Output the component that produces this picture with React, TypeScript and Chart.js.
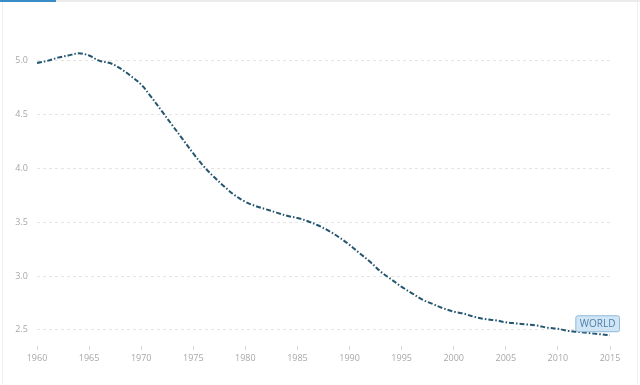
import React, { useEffect, useRef } from "react";
import { Chart, registerables } from "chart.js";

Chart.register(...registerables);

const years: number[] = [
  1960, 1961, 1962, 1963, 1964, 1965, 1966, 1967, 1968, 1969,
  1970, 1971, 1972, 1973, 1974, 1975, 1976, 1977, 1978, 1979,
  1980, 1981, 1982, 1983, 1984, 1985, 1986, 1987, 1988, 1989,
  1990, 1991, 1992, 1993, 1994, 1995, 1996, 1997, 1998, 1999,
  2000, 2001, 2002, 2003, 2004, 2005, 2006, 2007, 2008, 2009,
  2010, 2011, 2012, 2013, 2014, 2015,
];

const fertility: number[] = [
  4.98, 5.0, 5.03, 5.05, 5.07, 5.05, 5.0, 4.98, 4.93, 4.86,
  4.78, 4.66, 4.53, 4.4, 4.27, 4.14, 4.02, 3.92, 3.83, 3.75,
  3.69, 3.65, 3.62, 3.59, 3.56, 3.54, 3.51, 3.47, 3.42, 3.36,
  3.29, 3.21, 3.13, 3.04, 2.97, 2.9, 2.84, 2.78, 2.74, 2.7,
  2.67, 2.65, 2.62, 2.6, 2.59, 2.57, 2.56, 2.55, 2.54, 2.52,
  2.51, 2.49, 2.48, 2.47, 2.46, 2.45,
];

const yTickValues: number[] = [2.5, 3.0, 3.5, 4.0, 4.5, 5.0];
const xTickValues: number[] = [1960, 1965, 1970, 1975, 1980, 1985, 1990, 1995, 2000, 2005, 2010, 2015];
const seriesLabel = "WORLD";

const FONT = "'Open Sans', 'Noto Sans', sans-serif";

const labelPlugin = {
  id: "endLabel",
  afterDatasetsDraw(chart: any) {
    const meta = chart.getDatasetMeta(0);
    const last = meta.data[meta.data.length - 1];
    if (!last) return;
    const ctx = chart.ctx;
    ctx.save();
    ctx.font = `10px ${FONT}`;
    const tw = ctx.measureText(seriesLabel).width;
    const w = tw + 8;
    const h = 16;
    const x = last.x + 9 - w;
    const y = last.y - 20;
    ctx.fillStyle = "rgba(205,228,245,0.95)";
    ctx.strokeStyle = "#8fbad8";
    ctx.lineWidth = 1;
    ctx.beginPath();
    const r = 2;
    ctx.moveTo(x + r + 0.5, y + 0.5);
    ctx.arcTo(x + w + 0.5, y + 0.5, x + w + 0.5, y + h + 0.5, r);
    ctx.arcTo(x + w + 0.5, y + h + 0.5, x + 0.5, y + h + 0.5, r);
    ctx.arcTo(x + 0.5, y + h + 0.5, x + 0.5, y + 0.5, r);
    ctx.arcTo(x + 0.5, y + 0.5, x + w + 0.5, y + 0.5, r);
    ctx.closePath();
    ctx.fill();
    ctx.stroke();
    ctx.fillStyle = "#4f7fa6";
    ctx.textAlign = "center";
    ctx.textBaseline = "middle";
    ctx.fillText(seriesLabel, x + w / 2 + 0.5, y + h / 2 + 1);
    ctx.restore();
  },
};

export default function App() {
  const canvasRef = useRef<HTMLCanvasElement | null>(null);

  useEffect(() => {
    document.body.style.margin = "0";
    const canvas = canvasRef.current;
    if (!canvas) return;
    const chart = new Chart(canvas, {
      type: "line",
      data: {
        datasets: [
          {
            label: seriesLabel,
            data: years.map((yr, i) => ({ x: yr, y: fertility[i] })),
            borderColor: "#24566f",
            borderWidth: 2,
            borderDash: [5, 2, 1.5, 2],
            pointRadius: 0,
            tension: 0.35,
            fill: false,
          },
        ],
      },
      options: {
        animation: false,
        responsive: false,
        maintainAspectRatio: false,
        layout: { padding: { top: 20, right: 30, left: 0, bottom: 0 } },
        plugins: {
          legend: { display: false },
          tooltip: { enabled: false },
        },
        scales: {
          x: {
            type: "linear",
            min: 1960,
            max: 2015,
            afterBuildTicks: (scale: any) => {
              scale.ticks = xTickValues.map((v) => ({ value: v }));
            },
            afterFit: (scale: any) => {
              scale.height = 39;
            },
            border: { display: false },
            grid: {
              display: true,
              drawOnChartArea: false,
              drawTicks: true,
              tickLength: 4,
              color: "#d6d6d6",
            },
            ticks: {
              color: "#a8a8a8",
              font: { family: FONT, size: 9 },
              padding: 3,
              maxRotation: 0,
              callback: (v: any) => String(v),
            },
          },
          y: {
            type: "linear",
            min: 2.35,
            max: 5.38,
            afterBuildTicks: (scale: any) => {
              scale.ticks = yTickValues.map((v) => ({ value: v }));
            },
            afterFit: (scale: any) => {
              scale.width = 37;
            },
            border: { display: false },
            grid: {
              color: "#e4e4e4",
              lineWidth: 1,
              drawTicks: false,
              tickBorderDash: [3, 3],
            },
            ticks: {
              color: "#a8a8a8",
              font: { family: FONT, size: 9 },
              padding: 9,
              callback: (v: any) => Number(v).toFixed(1),
            },
          },
        },
      },
      plugins: [
        labelPlugin,
        {
          id: "dashGrid",
          beforeInit(chart: any) {
            chart.options.scales.y.border = { display: false, dash: [3, 3] };
          },
        },
      ],
    } as any);
    return () => chart.destroy();
  }, []);

  return (
    <div style={{ position: "relative", width: 640, height: 385, background: "#fff" }}>
      <div style={{ position: "absolute", left: 0, top: 0, width: 640, height: 2, background: "#ececec" }} />
      <div style={{ position: "absolute", left: 0, top: 0, width: 56, height: 2, background: "#3a8cc6" }} />
      <div style={{ position: "absolute", left: 2, top: 2, width: 1, height: 383, background: "#f0f0f0" }} />
      <div style={{ position: "absolute", left: 637, top: 2, width: 1, height: 383, background: "#f0f0f0" }} />
      <canvas ref={canvasRef} width={640} height={385} style={{ display: "block" }} />
    </div>
  );
}
